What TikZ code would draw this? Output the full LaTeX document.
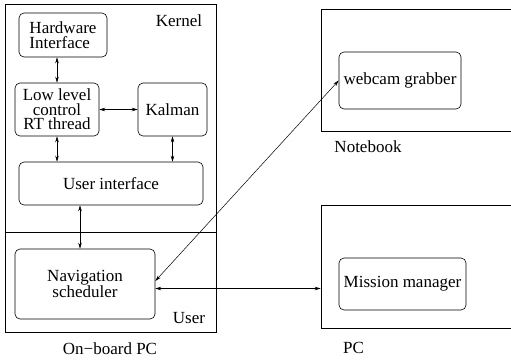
\documentclass[tikz,border=0pt]{standalone}
\usepackage{fontspec}
\setmainfont{Liberation Serif}
\usetikzlibrary{arrows.meta}
\tikzstyle{rbox} = [rectangle, rounded corners=5pt, draw, align=center, inner sep=1pt, line width=0.6pt]
\tikzstyle{pcbox} = [rectangle, draw, line width=0.7pt]
\tikzstyle{lbl} = [inner sep=0pt]
\tikzstyle{link} = [<->, >={Stealth[length=6pt,width=3.5pt]}, line width=0.5pt]

\begin{document}
\begin{tikzpicture}[x=1pt, y=-1pt, font=\fontsize{17}{14.5}\selectfont]
    \useasboundingbox (0,0) rectangle (511,360);
    \node[pcbox, minimum width=211pt, minimum height=328pt] (onboard) at (110.5,168) {};
    \node[pcbox, minimum width=209pt, minimum height=122pt] (notebook) at (425.5,70) {};
    \node[pcbox, minimum width=209pt, minimum height=123pt] (pc) at (425.5,266.5) {};
    \coordinate (sep) at (0,232);
    \draw[line width=0.7pt] (onboard.west |- sep) -- (onboard.east |- sep);

    \node[rbox, align=left, minimum width=88pt, minimum height=44pt] (hw) at (63,35) {Hardware\\Interface};
    \node[rbox, minimum width=84pt, minimum height=53pt] (llc) at (57,109.5) {Low level\\control\\RT thread};
    \node[rbox, minimum width=69pt, minimum height=53pt] (kal) at (172.5,109.5) {Kalman};
    \node[rbox, minimum width=184pt, minimum height=43pt] (ui) at (111,183.5) {User interface};
    \node[rbox, minimum width=140pt, minimum height=70pt] (nav) at (85,284) {Navigation\\scheduler};
    \node[rbox, minimum width=122pt, minimum height=57pt] (web) at (400,80.5) {webcam grabber};
    \node[rbox, minimum width=127pt, minimum height=52pt] (mission) at (402.5,284) {Mission manager};

    \node[lbl] (kernel) at (179,21) {Kernel};
    \node[lbl] (user) at (189,318) {User};
    \node[lbl] (onboardlbl) at (110,349) {On−board PC};
    \node[lbl] (notebooklbl) at (368,147) {Notebook};
    \node[lbl] (pclbl) at (353.5,348) {PC};

    \draw[link] (llc.north) -- (llc.north |- hw.south);
    \draw[link] (llc.east) -- (kal.west);
    \draw[link] (llc.south) -- (llc.south |- ui.north);
    \draw[link] (kal.south) -- (kal.south |- ui.north);
    \draw[link] ([xshift=-5pt]nav.north) -- ([xshift=-5pt]nav.north |- ui.south);
    \draw[link] ([yshift=3pt]nav.east) -- (web.west);
    \path ([yshift=-4.5pt]nav.east) coordinate (navpc);
    \draw[link] (navpc) -- (navpc -| pc.west);
    %\draw[link] (nav.east) -- (mission.west);
\end{tikzpicture}
\end{document}
